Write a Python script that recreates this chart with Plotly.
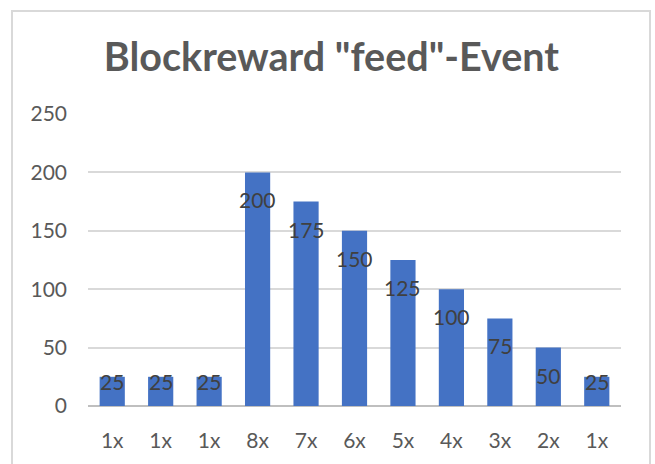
import plotly.graph_objects as go

categories = ["1x", "1x", "1x", "8x", "7x", "6x", "5x", "4x", "3x", "2x", "1x"]
values = [25, 25, 25, 200, 175, 150, 125, 100, 75, 50, 25]
y_ticks = [0, 50, 100, 150, 200, 250]

W, H = 655, 464
L, R, T, B = 88, 34, 114, 55
plot_h = H - T - B
YMAX = 250

positions = list(range(len(categories)))

fig = go.Figure()
fig.add_trace(go.Bar(
    x=positions, y=values, width=0.52,
    marker=dict(color="#4472C4", line=dict(width=0)),
    hoverinfo="skip",
))

FONT = "Lato"
annotations = []
for p, v in zip(positions, values):
    bar_px = v / YMAX * plot_h
    shift = -min(27.5, bar_px - 25)
    annotations.append(dict(
        x=p, y=v, xref="x", yref="y", text=str(v), showarrow=False,
        yanchor="middle", xanchor="center", yshift=shift,
        font=dict(family=FONT, size=21, color="#404040"),
    ))

fig.update_layout(
    width=W, height=H,
    margin=dict(l=L, r=R, t=T, b=B),
    paper_bgcolor="white", plot_bgcolor="white",
    showlegend=False,
    title=dict(
        text='<b>Blockreward "feed"-Event</b>',
        x=0.506, xanchor="center", y=1 - 57 / H, yanchor="middle",
        font=dict(family=FONT, size=39.5, color="#595959"),
    ),
    annotations=annotations,
    xaxis=dict(
        tickmode="array", tickvals=positions, ticktext=categories,
        range=[-0.5, len(categories) - 0.5],
        showgrid=False, zeroline=False, showline=False, ticks="",
        ticklabelstandoff=20,
        tickfont=dict(family=FONT, size=21, color="#595959"),
    ),
    yaxis=dict(
        range=[0, YMAX], tickmode="array", tickvals=y_ticks,
        showgrid=True, gridcolor="#d9d9d9", gridwidth=1.5,
        zeroline=True, zerolinecolor="#bfbfbf", zerolinewidth=2,
        showline=False, ticks="",
        ticklabelstandoff=20,
        tickfont=dict(family=FONT, size=21, color="#595959"),
    ),
    shapes=[dict(
        type="rect", xref="paper", yref="paper",
        x0=(12 - L) / (W - L - R), x1=(650 - L) / (W - L - R),
        y0=(H - B - 480) / plot_h, y1=(H - B - 10) / plot_h,
        line=dict(color="#d9d9d9", width=2), fillcolor="rgba(0,0,0,0)",
        layer="below",
    )],
)

fig.write_html(
    "out.html",
    config={"displayModeBar": False},
    post_script="document.body.style.margin='0';document.body.style.overflow='hidden';",
)
